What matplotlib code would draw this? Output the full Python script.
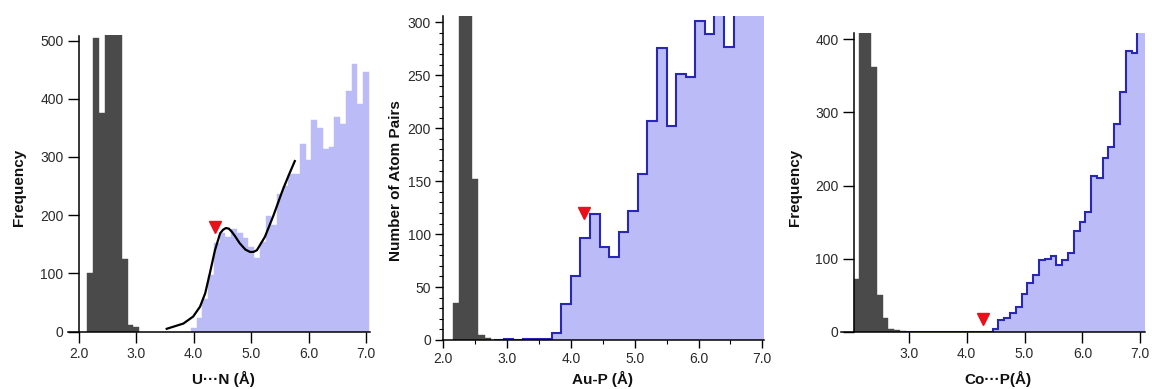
import matplotlib
matplotlib.use("Agg")
import matplotlib.pyplot as plt
import numpy as np
from matplotlib.ticker import MultipleLocator

plt.rcParams['font.family'] = ['Liberation Sans', 'DejaVu Sans']

DARK = '#4a4a4a'
LILAC = '#bbbbf7'
BLUE = '#2828b4'
RED = '#e8101a'
TXT = '#2a2a2a'

# U...N  (0.1 A bins; clipped bars given above the axis top)
un_dark_x = [2.2, 2.3, 2.4, 2.5, 2.6, 2.7, 2.8, 2.9, 3.0]
un_dark_y = [100, 505, 375, 560, 620, 580, 125, 12, 8]
un_light_x = np.round(np.arange(4.0, 7.01, 0.1), 2)
un_light_y = [7, 23, 57, 98, 152, 170, 163, 176, 170, 161, 145, 126, 154, 199, 183,
              237, 251, 271, 271, 323, 295, 363, 349, 313, 317, 369, 356, 413, 460, 391, 446]
un_fit_x = [3.53, 3.82, 3.99, 4.11, 4.20, 4.28, 4.37, 4.46, 4.51, 4.56, 4.61, 4.66, 4.72,
            4.80, 4.90, 4.98, 5.04, 5.10, 5.24, 5.39, 5.50, 5.56, 5.66, 5.76]
un_fit_y = [5, 14, 26, 43, 66, 100, 140, 169, 175, 178, 177, 172, 164,
            152, 141, 137, 137, 140, 163, 200, 230, 246, 270, 293]
un_mark = (4.37, 180)

# Au-P  (0.1 A dark bins, 0.15 A step histogram)
aup_dark_x = [2.2, 2.3, 2.4, 2.5, 2.6, 2.7]
aup_dark_y = [35, 330, 340, 152, 5, 2]
aup_edges = np.round(np.arange(2.80, 7.151, 0.15), 2)
aup_y = [0, 1, 0, 1, 1, 1, 7, 34, 60, 96, 119, 88, 78, 102, 122, 157, 207, 276, 202,
         251, 248, 301, 289, 330, 277, 340, 360, 350, 350]
aup_mark = (4.21, 120)

# Co...P  (0.1 A bins)
cop_dark_x = [2.1, 2.2, 2.3, 2.4, 2.5, 2.6, 2.7, 2.8, 2.9]
cop_dark_y = [72, 520, 470, 362, 50, 19, 4, 2, 1]
cop_edges = np.round(np.arange(2.95, 7.151, 0.1), 2)
cop_y = [0] * 15 + [4, 16, 19, 25, 34, 52, 66, 78, 98, 100, 103, 91, 98, 107, 138, 150,
                    164, 213, 210, 238, 253, 284, 328, 384, 381, 412, 420]
cop_mark = (4.29, 18)

fig = plt.figure(figsize=(11.52, 3.89), dpi=100)


def style(ax, xlim, ylim, spine_x=None, spine_top=None, tick_len=8):
    ax.set_xlim(*xlim)
    ax.set_ylim(*ylim)
    for s in ('top', 'right'):
        ax.spines[s].set_visible(False)
    for s in ('left', 'bottom'):
        ax.spines[s].set_linewidth(1.1)
    if spine_x is not None:
        ax.spines['left'].set_position(('data', spine_x))
    if spine_top is not None:
        ax.spines['left'].set_bounds(0, spine_top)
    ax.tick_params(which='major', direction='out', length=tick_len, width=1.0,
                   labelsize=10, labelcolor=TXT, pad=3)
    ax.tick_params(which='minor', direction='out', length=3, width=0.8)


# panel 1
ax1 = fig.add_axes([0.059, 0.1473, 0.2622, 0.7635])
ax1.bar(un_dark_x, un_dark_y, width=0.1, color=DARK, edgecolor=DARK, linewidth=0.3)
ax1.bar(un_light_x, un_light_y, width=0.1, color=LILAC, edgecolor=LILAC, linewidth=0.3)
ax1.plot(un_fit_x, un_fit_y, color='black', lw=1.6)
ax1.plot(*un_mark, marker='v', color=RED, ms=8, ls='none')
style(ax1, (1.81, 7.07), (0, 510), spine_x=2.0, spine_top=507)
ax1.set_xticks([2, 3, 4, 5, 6, 7], ['2.0', '3.0', '4.0', '5.0', '6.0', '7.0'])
ax1.set_yticks([0, 100, 200, 300, 400, 500])

# panel 2
ax2 = fig.add_axes([0.3848, 0.126, 0.2786, 0.8329])
ax2.bar(aup_dark_x, aup_dark_y, width=0.1, color=DARK, edgecolor=DARK, linewidth=0.3)
ax2.stairs(aup_y, aup_edges, fill=True, color=LILAC)
ax2.stairs(aup_y, aup_edges, color=BLUE, lw=1.5)
ax2.plot(*aup_mark, marker='v', color=RED, ms=8, ls='none')
style(ax2, (2.0, 7.03), (0, 306), tick_len=6)
ax2.set_xticks([2, 3, 4, 5, 6, 7], ['2.0', '3.0', '4.0', '5.0', '6.0', '7.0'])
ax2.xaxis.set_minor_locator(MultipleLocator(0.5))
ax2.set_yticks([0, 50, 100, 150, 200, 250, 300])
ax2.yaxis.set_minor_locator(MultipleLocator(10))

# panel 3
ax3 = fig.add_axes([0.730, 0.1473, 0.2639, 0.7666])
ax3.bar(cop_dark_x, cop_dark_y, width=0.1, color=DARK, edgecolor=DARK, linewidth=0.3)
ax3.stairs(cop_y, cop_edges, fill=True, color=LILAC)
ax3.stairs(cop_y, cop_edges, color=BLUE, lw=1.5)
ax3.plot(*cop_mark, marker='v', color=RED, ms=8, ls='none')
style(ax3, (1.83, 7.08), (0, 408), spine_x=2.05)
ax3.set_xticks([3, 4, 5, 6, 7], ['3.0', '4.0', '5.0', '6.0', '7.0'])
ax3.set_yticks([0, 100, 200, 300, 400])

# axis titles
lab = dict(fontsize=11, fontweight='bold', color='#111111', ha='center', va='center')
fig.text(0.1936, 0.025, 'U\u00b7\u00b7\u00b7N (\u00c5)', **lab)
fig.text(0.0165, 0.519, 'Frequency', rotation=90, **lab)
fig.text(0.5226, 0.025, 'Au-P (\u00c5)', **lab)
fig.text(0.3438, 0.537, 'Number of Atom Pairs', rotation=90, **lab)
fig.text(0.8663, 0.025, 'Co\u00b7\u00b7\u00b7P(\u00c5)', **lab)
fig.text(0.690, 0.519, 'Frequency', rotation=90, **lab)

fig.savefig('out.png', dpi=100)
